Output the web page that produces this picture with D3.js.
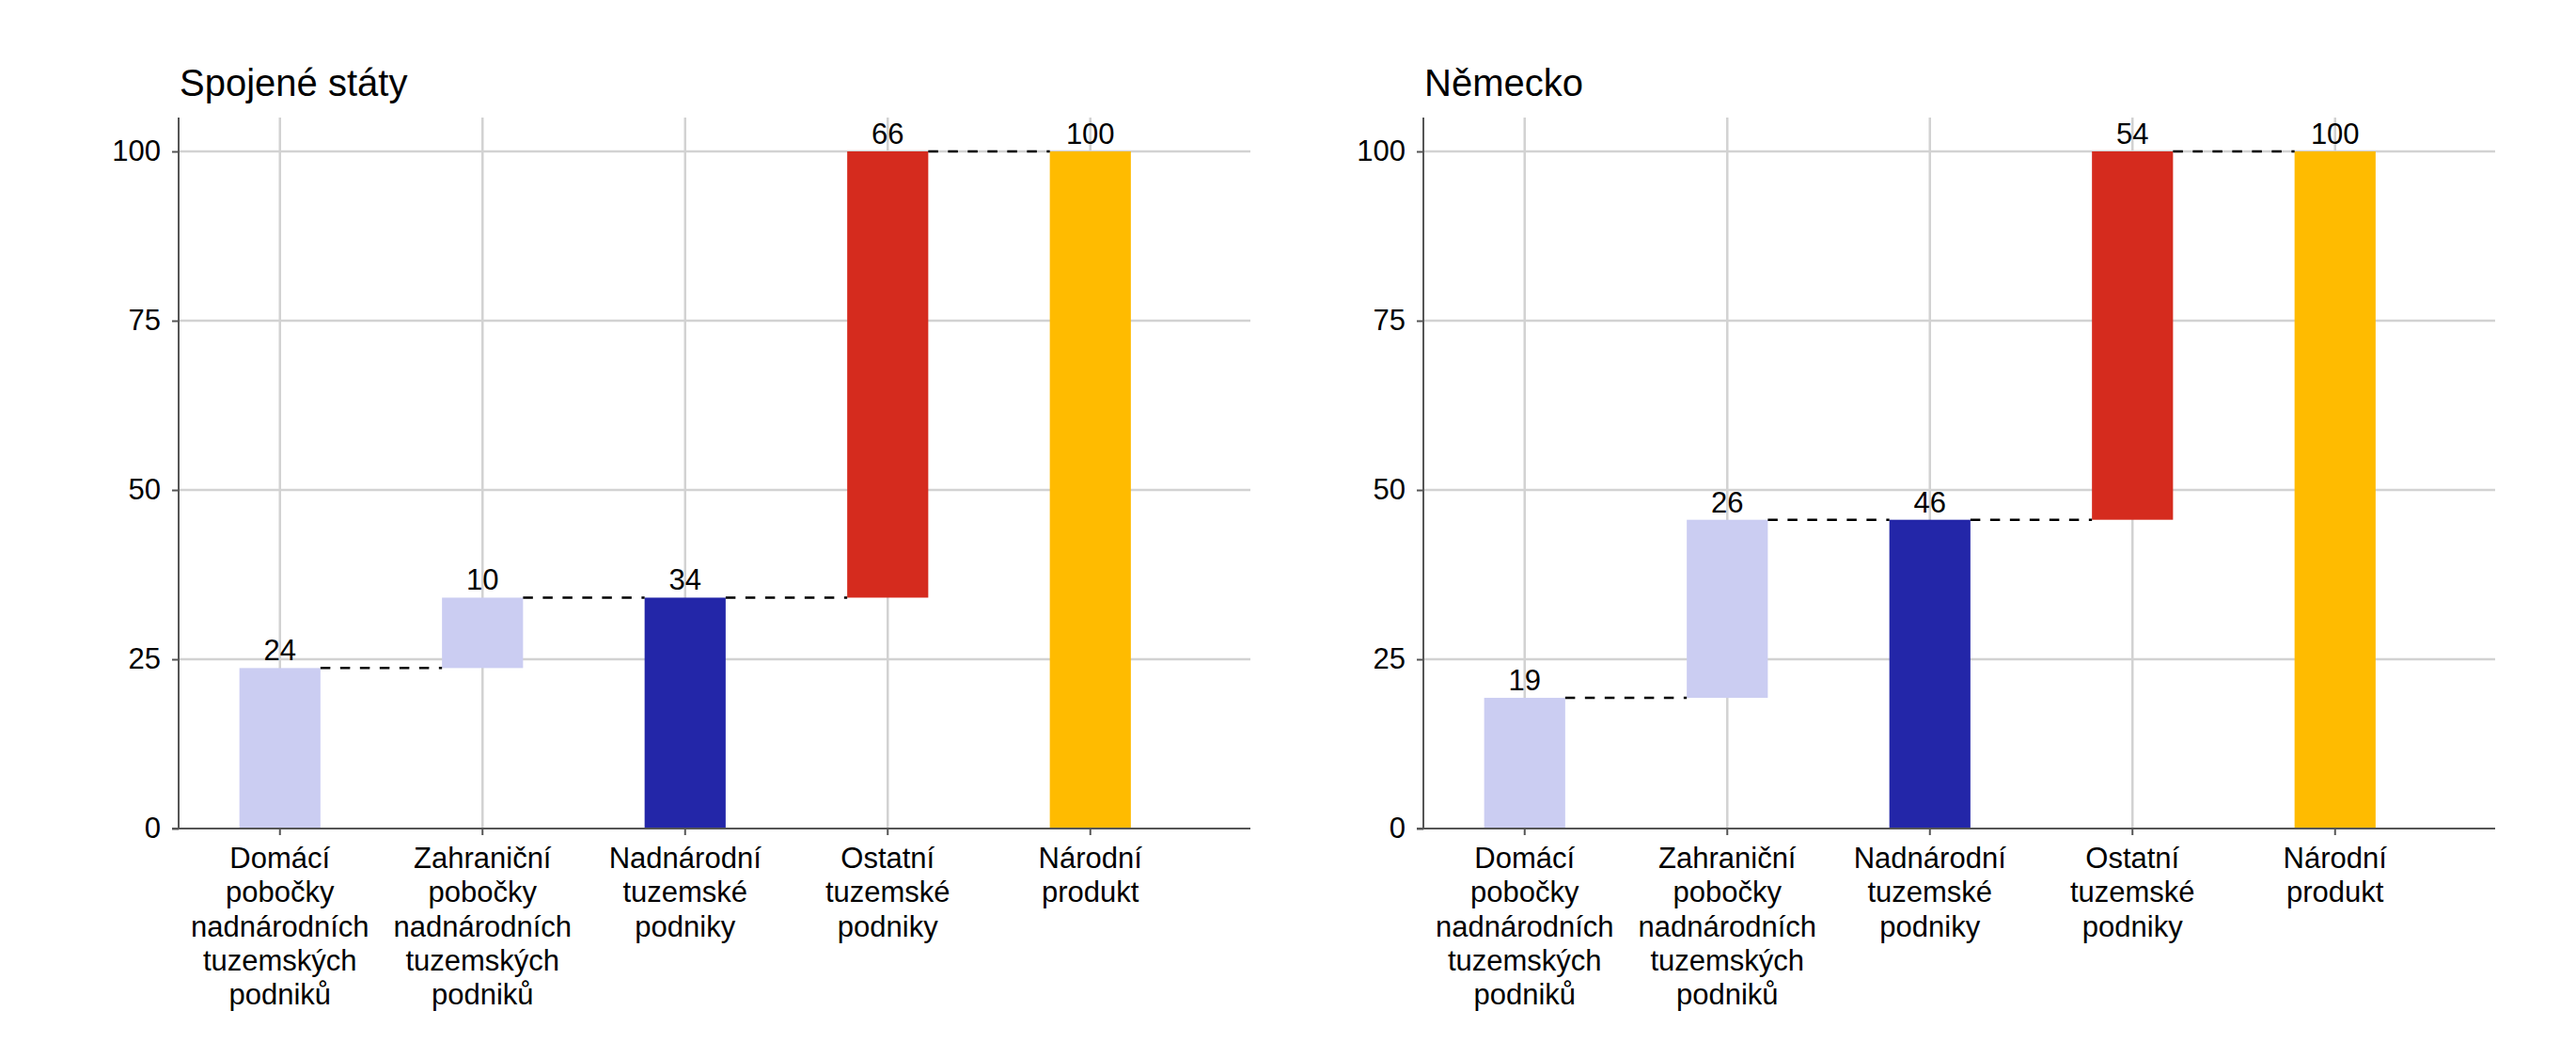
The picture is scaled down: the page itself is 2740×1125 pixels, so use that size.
<!doctype html>
<html lang="cs">
<head>
<meta charset="utf-8">
<title>Spojené státy / Německo</title>
<script src="https://d3js.org/d3.v7.min.js"></script>
<style>
  body { margin: 0; background: #fff; }
  svg { display: block; }
  text { font-family: 'Liberation Sans', Arial, sans-serif; fill: #000; }
  .grid line { stroke: #d2d2d2; stroke-width: 2.5; }
  .axis path, .axis line { stroke: #555; stroke-width: 2; }
  .axis text { font-size: 31px; fill: #000; }
  .title { font-size: 40px; }
  .value { font-size: 31px; }
  .cat { font-size: 31px; }
  .connector { stroke: #000; stroke-width: 2.5; stroke-dasharray: 10.5 10.5; }
</style>
</head>
<body>
<svg id="chart"></svg>
<script>
// categories (one array per label, split into lines)
const categories = [
  ['Domácí', 'pobočky', 'nadnárodních', 'tuzemských', 'podniků'],
  ['Zahraniční', 'pobočky', 'nadnárodních', 'tuzemských', 'podniků'],
  ['Nadnárodní', 'tuzemské', 'podniky'],
  ['Ostatní', 'tuzemské', 'podniky'],
  ['Národní', 'produkt']
];
// step = adds to running total, total = bar from zero
const barTypes = ['step', 'step', 'total', 'step', 'total'];

const usValues = [23.7, 10.4, 34.1, 65.9, 100];
const deValues = [19.3, 26.3, 45.6, 54.4, 100];

const panelTitles = ['Spojené státy', 'Německo'];
const yTicks = [0, 25, 50, 75, 100];
const yMax = 105;

// styles
const barColors = ['#cbcdf2', '#cbcdf2', '#2326a8', '#d52b1e', '#ffbb00'];

const W = 2740, H = 1125;
const svg = d3.select('#chart').attr('width', W).attr('height', H);

const plotTop = 125, plotBottom = 881;
const plotWidth = 1140;
const step = 215.5;

const yScale = d3.scaleLinear()
  .domain([0, yMax])
  .range([plotBottom, plotTop]);

function waterfall(values) {
  let running = 0;
  return values.map((v, i) => {
    let base, top;
    if (barTypes[i] === 'total') {
      base = 0; top = v; running = v;
    } else {
      base = running; top = running + v; running = top;
    }
    return { i, value: v, base, top };
  });
}

function drawPanel(left, title, values) {
  const g = svg.append('g');
  const bars = waterfall(values);

  const xScale = d3.scaleBand()
    .domain(d3.range(categories.length))
    .range([left, left + step * categories.length])
    .paddingInner(0.6)
    .paddingOuter(0.3);

  const cx = (i) => xScale(i) + xScale.bandwidth() / 2;

  // grid
  const grid = g.append('g').attr('class', 'grid');
  grid.selectAll('.h')
    .data(yTicks.filter(t => t > 0))
    .join('line')
    .attr('x1', left).attr('x2', left + plotWidth)
    .attr('y1', d => yScale(d)).attr('y2', d => yScale(d));
  grid.selectAll('.v')
    .data(d3.range(categories.length))
    .join('line')
    .attr('x1', cx).attr('x2', cx)
    .attr('y1', plotTop).attr('y2', plotBottom);

  // bars
  g.selectAll('rect.bar')
    .data(bars)
    .join('rect')
    .attr('class', 'bar')
    .attr('x', d => xScale(d.i))
    .attr('width', xScale.bandwidth())
    .attr('y', d => yScale(d.top))
    .attr('height', d => yScale(d.base) - yScale(d.top))
    .attr('fill', d => barColors[d.i]);

  // dashed connectors between bars
  g.selectAll('line.connector')
    .data(bars.slice(0, -1))
    .join('line')
    .attr('class', 'connector')
    .attr('x1', d => xScale(d.i) + xScale.bandwidth())
    .attr('x2', d => xScale(d.i + 1))
    .attr('y1', d => yScale(d.top))
    .attr('y2', d => yScale(d.top));

  // value labels
  g.selectAll('text.value')
    .data(bars)
    .join('text')
    .attr('class', 'value')
    .attr('x', d => cx(d.i))
    .attr('y', d => yScale(d.top) - 8)
    .attr('text-anchor', 'middle')
    .text(d => d3.format('.0f')(d.value));

  // y axis
  const yAxis = g.append('g')
    .attr('class', 'axis')
    .attr('transform', `translate(${left},0)`)
    .call(d3.axisLeft(yScale).tickValues(yTicks).tickSize(7).tickSizeOuter(0).tickPadding(12));
  yAxis.select('.domain').attr('d', `M0,${plotTop}V${plotBottom}`);

  // x axis
  const xAxis = g.append('g')
    .attr('class', 'axis')
    .attr('transform', `translate(0,${plotBottom})`);
  xAxis.append('path')
    .attr('d', `M${left - 7},0H${left + plotWidth}`)
    .attr('fill', 'none');
  xAxis.selectAll('line.tick')
    .data(d3.range(categories.length))
    .join('line')
    .attr('class', 'tick')
    .attr('x1', cx).attr('x2', cx)
    .attr('y1', 0).attr('y2', 7);

  const labels = g.selectAll('text.cat')
    .data(categories)
    .join('text')
    .attr('class', 'cat')
    .attr('text-anchor', 'middle')
    .attr('y', plotBottom + 42);
  labels.selectAll('tspan')
    .data((d, i) => d.map(line => ({ line, i })))
    .join('tspan')
    .attr('x', d => cx(d.i))
    .attr('dy', (d, j) => j === 0 ? 0 : 36.3)
    .text(d => d.line);

  // title
  g.append('text')
    .attr('class', 'title')
    .attr('x', left + 1)
    .attr('y', 102)
    .text(title);
}

drawPanel(190, panelTitles[0], usValues);
drawPanel(1514, panelTitles[1], deValues);
</script>
</body>
</html>
